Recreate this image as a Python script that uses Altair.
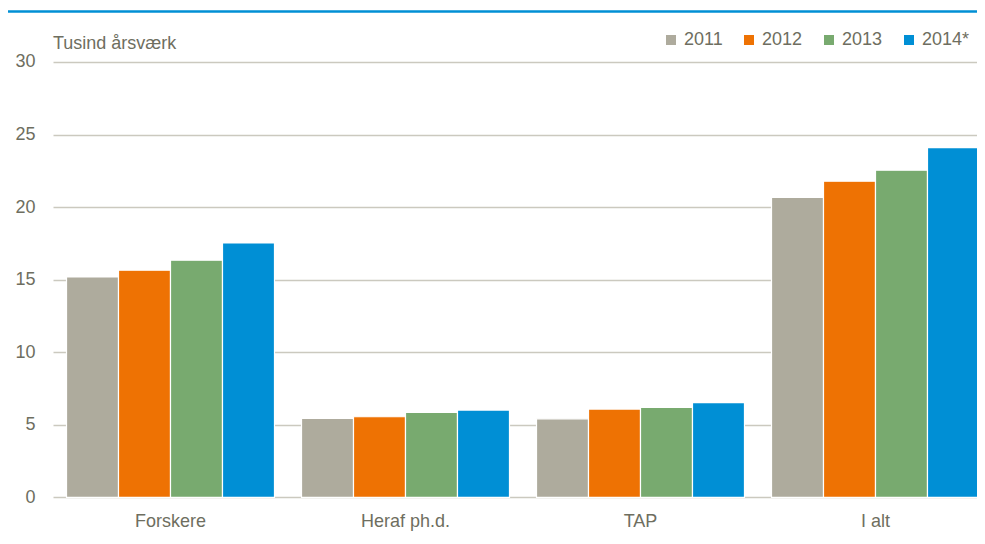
import altair as alt
import pandas as pd

categories = ["Forskere", "Heraf ph.d.", "TAP", "I alt"]
years = ["2011", "2012", "2013", "2014*"]
v2011 = [15.19, 5.44, 5.41, 20.66]
v2012 = [15.65, 5.55, 6.08, 21.78]
v2013 = [16.34, 5.85, 6.20, 22.54]
v2014 = [17.53, 6.01, 6.52, 24.10]
colors = ["#aeab9d", "#ee7203", "#78aa6f", "#008fd5"]
y_ticks = [0, 5, 10, 15, 20, 25, 30]
unit_label = "Tusind årsværk"

rows = []
for yr, vals in zip(years, [v2011, v2012, v2013, v2014]):
    for c, v in zip(categories, vals):
        rows.append({"kategori": c, "år": yr, "værdi": v})
df = pd.DataFrame(rows)

FONT = "Liberation Sans Narrow, Arial Narrow, Liberation Sans, Arial, sans-serif"
TXT = "#6e6e60"
FS = 18

bars = alt.Chart(df).mark_bar(stroke="white", strokeWidth=1.2).encode(
    x=alt.X("kategori:N", sort=categories, title=None,
            scale=alt.Scale(paddingInner=0.115, paddingOuter=0.0575, range=[0, 940]),
            axis=alt.Axis(labelAngle=0, domain=False, ticks=False, labelPadding=15,
                          labelFontSize=FS, labelColor=TXT, labelFont=FONT)),
    xOffset=alt.XOffset("år:N", sort=years),
    y=alt.Y("værdi:Q", title=None,
            scale=alt.Scale(domain=[0, 30], nice=False),
            axis=alt.Axis(values=y_ticks, domain=False, ticks=False, labelPadding=18,
                          labelFontSize=FS, labelColor=TXT, labelFont=FONT,
                          gridColor="#cbc9bf", gridWidth=1.4)),
    color=alt.Color("år:N", sort=years,
                    scale=alt.Scale(domain=years, range=colors),
                    legend=alt.Legend(title=None, orient="none", legendX=609, legendY=-31,
                                      direction="horizontal", symbolType="square",
                                      symbolSize=100, symbolStrokeWidth=0,
                                      labelFontSize=FS, labelColor=TXT, labelFont=FONT,
                                      labelOffset=4, columnPadding=17)),
)

unit = alt.Chart(pd.DataFrame({"t": [unit_label]})).mark_text(
    align="left", baseline="alphabetic", fontSize=FS, font=FONT, color=TXT
).encode(x=alt.value(0), y=alt.value(-13), text="t:N")

topline = alt.Chart(pd.DataFrame({"a": [0]})).mark_rule(
    color="#008fd5", strokeWidth=2.5
).encode(x=alt.value(-48), x2=alt.value(940), y=alt.value(-50.5))

chart = alt.layer(bars, unit, topline).properties(
    width=924, height=435.3,
    autosize=alt.AutoSizeParams(type="none"),
    padding={"left": 45, "top": 54, "right": 0, "bottom": 38},
    background="white",
).configure_view(stroke=None)

chart.save("out.html", embed_options={"renderer": "svg", "actions": False})
